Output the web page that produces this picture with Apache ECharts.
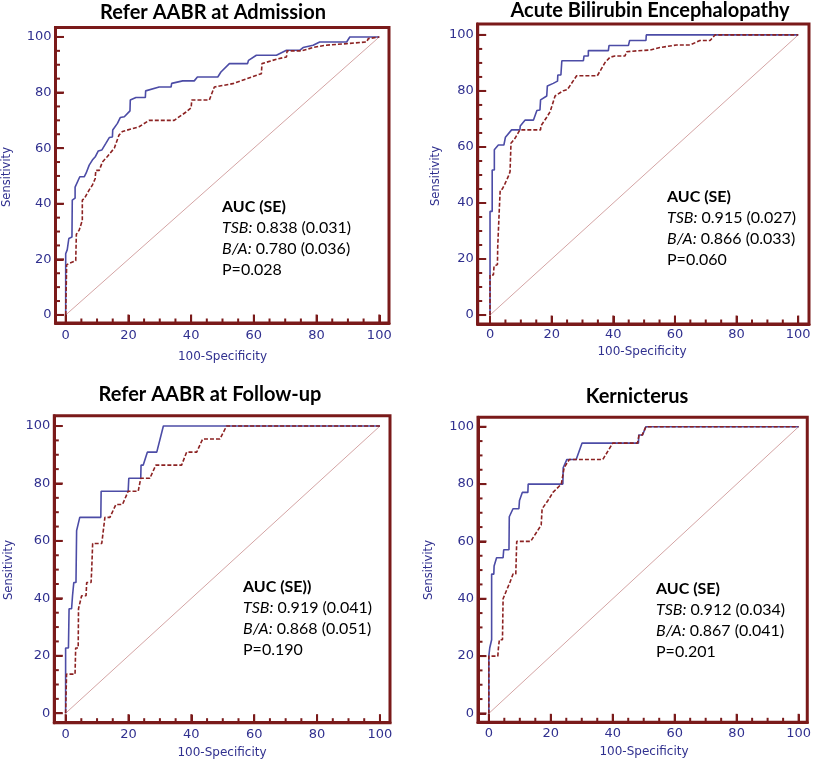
<!DOCTYPE html>
<html>
<head>
<meta charset="utf-8">
<script src="https://cdn.jsdelivr.net/npm/echarts@6/dist/echarts.min.js"></script>
<style>
  html, body { margin: 0; padding: 0; background: #fff; }
  #chart { width: 814px; height: 760px; }
</style>
</head>
<body>
<div id="chart"></div>
<script>
// tick values
const majorTicks = [0, 20, 40, 60, 80, 100];
const minorTicks = [5, 10, 15, 25, 30, 35, 45, 50, 55, 65, 70, 75, 85, 90, 95];
const diagonal = [[0, 0], [100, 100]];

const panelTitles = ['Refer AABR at Admission', 'Acute Bilirubin Encephalopathy', 'Refer AABR at Follow-up', 'Kernicterus'];
const aucHeads = ['AUC (SE)', 'AUC (SE)', 'AUC (SE))', 'AUC (SE)'];
const aucTSB = ['0.838 (0.031)', '0.915 (0.027)', '0.919 (0.041)', '0.912 (0.034)'];
const aucBA = ['0.780 (0.036)', '0.866 (0.033)', '0.868 (0.051)', '0.867 (0.041)'];
const pValues = ['P=0.028', 'P=0.060', 'P=0.190', 'P=0.201'];

// [100-specificity, sensitivity]
const admissionTSB = [[0,0],[0,22],[0.5,22],[0.5,23.5],[1,23.5],[1,27.5],[2,28],[2.1,41.3],[3,42],[3,46],[4.5,49.7],[5.9,49.7],[6.5,51],[7.5,53.9],[8.5,55.7],[9.5,57],[10.4,59],[11.5,59.3],[12.8,61.7],[13.9,63.8],[14.9,64],[15,66.5],[16.5,68.9],[17.4,71],[18.7,71.3],[20.5,73.4],[20.6,77.3],[22.4,78.2],[25.4,78.2],[25.5,80.6],[29.8,82],[33.6,82],[33.8,83.3],[37.3,84.2],[41,84.2],[42,85.6],[48.5,85.6],[49.5,87.4],[52.2,90.4],[58,90.4],[58.3,91.6],[60.8,93.4],[67.2,93.4],[70.4,95.2],[74.6,95.2],[75.7,96.2],[78.9,97],[81,98.2],[89.6,98.2],[90.6,100],[100,100]];
const admissionBA = [[0,0],[0.3,0],[0.3,18],[1,18.5],[3.2,19.5],[3.4,29],[4.3,30.5],[5.3,34],[5.3,41.3],[6,42],[7.5,45],[8.5,46.7],[9.4,49],[9.6,52],[10.7,52],[11.7,55],[13.3,57],[15.5,60],[17,64.7],[18.1,66],[23.4,67.7],[26.6,70],[34.6,70],[38.4,73],[40,74.5],[40.2,77.3],[45.8,77.3],[47.4,82],[53.3,83.2],[62.4,86.8],[62.6,90.4],[67.2,92],[70.4,92.8],[70.6,95],[75.2,95],[78.9,96.2],[82.6,97],[89.6,97.6],[89.8,98.2],[96,98.2],[96.5,99.4],[100,100]];

const abeTSB = [[0,0],[0,37],[0.7,37],[0.7,51.8],[1.4,51.8],[1.4,59],[2.7,60.7],[4.5,60.7],[5,63.5],[7,66.1],[9.7,66.1],[9.8,67.5],[11.4,69.6],[14.1,69.6],[15.2,73],[16.2,73.2],[16.4,76.8],[18.4,78.2],[18.6,81.8],[20.5,82.7],[21.9,83.5],[22,85.7],[23,85.7],[23.3,90.8],[30.3,90.8],[30.5,92.5],[31.9,92.5],[31.9,94.4],[38.4,94.4],[38.6,96.2],[44.9,96.2],[45.3,98],[50.6,98],[50.7,100],[100,100]];
const abeBA = [[0,0],[0,14.3],[1.1,14.3],[1.3,17.5],[2.4,18],[2.5,24.5],[2.9,25],[3,37.5],[3.3,37.5],[3.3,44.6],[4,45],[4.9,47],[5.9,49.4],[6.5,51.2],[6.8,61.3],[8.1,63.1],[9.7,66.1],[16.4,66.1],[16.5,67.5],[18.4,70.6],[19.5,72.6],[21.1,78.2],[23.8,80.1],[25.1,80.5],[28.1,85.4],[34.8,85.4],[37.3,90.1],[38.9,92],[40.5,92.5],[43.8,92.5],[44.3,94],[47.6,94.3],[51.9,94.6],[55.1,95.5],[60.5,96.4],[64.9,96.4],[68.1,98],[71.4,98],[73,100],[100,100]];

const followTSB = [[0,0],[0,22.7],[0.9,22.7],[1.1,36.4],[1.9,36.4],[2.2,40.9],[2.6,45.5],[3.3,45.5],[3.5,63.6],[4.5,68.2],[11.2,68.2],[11.3,77.3],[19.9,77.3],[20.1,81.8],[23.9,81.8],[24,86.4],[24.7,86.4],[26,90.9],[29,90.9],[31.1,100],[100,100]];
const followBA = [[0,0],[0.3,0],[0.3,13.6],[3,13.6],[3.2,22.7],[4,22.7],[4.1,36.4],[5.1,40.9],[6.5,40.9],[6.7,45.5],[8.1,45.5],[8.3,50],[8.6,59.1],[11.5,59.1],[12.5,68.2],[14.1,68.2],[16,72.7],[18.1,72.7],[19.9,77.3],[23.1,77.3],[23.9,81.8],[26.8,81.8],[28.7,86.4],[36.9,86.4],[38.5,90.9],[41.7,90.9],[43.6,95.5],[49.1,95.5],[51.2,100],[100,100]];

const kernTSB = [[0,0],[0,20],[0.3,20],[0.3,22.9],[0.9,25.7],[0.9,48.6],[1.6,48.6],[1.7,51.4],[2.5,54.3],[4.6,54.3],[4.8,57.1],[6.5,57.1],[6.6,68.6],[7.8,71.4],[9.7,71.4],[9.9,74.3],[10.8,77.1],[12.6,77.1],[12.7,80],[23.9,80],[24,85.7],[25.2,88.6],[28.2,88.6],[30.1,94.3],[48.3,94.3],[48.4,97.1],[49.6,97.1],[50.7,100],[100,100]];
const kernBA = [[0,0],[0,20],[2.9,20],[3.1,22.9],[3.4,25.7],[4.4,25.7],[4.6,40],[5.7,42.9],[6.8,45.7],[7.8,48.6],[8.7,48.6],[9,60],[13.5,60],[16.9,65.7],[17.2,71.4],[19.1,74.3],[20.7,77.1],[23.4,80],[24.3,85.7],[26,88.6],[36.8,88.6],[40,94.3],[48,94.3],[48.5,97.1],[49.5,97.1],[50.7,100],[100,100]];

const tsbSeries = [admissionTSB, abeTSB, followTSB, kernTSB];
const baSeries = [admissionBA, abeBA, followBA, kernBA];

// frame box in px, axis extents, title centre, AUC text anchor, axis name centres
const layout = [
  { box: [55.5, 27.5, 389, 323], xr: [-3.25, 103.1], yr: [-2.9, 103.4], title: [213, 13], txt: [222, 207], xName: [222.5, 357], yName: [7.5, 177], xm: 6 },
  { box: [477.7, 24, 809, 324], xr: [-4.0, 103.5], yr: [-3.2, 103.9], title: [650, 11], txt: [667, 197], xName: [642, 352], yName: [436, 176], xm: 4 },
  { box: [54.3, 415.7, 390, 722.7], xr: [-3.6, 103.2], yr: [-3.3, 103.6], title: [210, 395], txt: [243, 587], xName: [222, 752.5], yName: [9.5, 570], xm: 5 },
  { box: [478, 417.3, 809.3, 722.3], xr: [-3.5, 102.8], yr: [-3.1, 103.3], title: [637, 397], txt: [656, 589], xName: [644, 752], yName: [429, 570], xm: 5 }
];

const frameColor = '#7a1a1a';
const labelBlue = '#30308f';

let grid = [], xAxis = [], yAxis = [], series = [], graphic = [];

function frameAxis(dim, i, p) {
  const r = dim === 'x' ? p.xr : p.yr;
  return {
    type: 'value', gridIndex: i, position: dim === 'x' ? 'bottom' : 'left',
    min: r[0], max: r[1],
    axisLine: { show: true, onZero: false, lineStyle: { color: frameColor, width: 3 } },
    axisTick: { show: true, inside: true, length: 8, customValues: majorTicks, lineStyle: { color: frameColor, width: 2 } },
    axisLabel: { customValues: majorTicks, color: labelBlue, fontSize: 13, fontFamily: 'DejaVu Sans', margin: dim === 'x' ? p.xm : 4 },
    splitLine: { show: false }
  };
}

layout.forEach((p, i) => {
  grid.push({
    left: p.box[0], top: p.box[1],
    width: p.box[2] - p.box[0], height: p.box[3] - p.box[1],
    show: true, borderColor: frameColor, borderWidth: 3
  });
  xAxis.push(frameAxis('x', i, p));
  yAxis.push(frameAxis('y', i, p));

  series.push({
    type: 'line', xAxisIndex: i, yAxisIndex: i, data: diagonal,
    showSymbol: false, silent: true, lineStyle: { color: '#d4a4a4', width: 1 }
  });
  series.push({
    name: 'TSB', type: 'line', xAxisIndex: i, yAxisIndex: i, data: tsbSeries[i],
    showSymbol: false, lineStyle: { color: '#4c4ca6', width: 1.6 }
  });
  series.push({
    name: 'B/A', type: 'line', xAxisIndex: i, yAxisIndex: i, data: baSeries[i],
    showSymbol: false, lineStyle: { color: '#8c2222', width: 1.6, type: [4, 2] }
  });

  graphic.push({
    type: 'text', x: p.title[0], y: p.title[1],
    style: { text: panelTitles[i], fill: '#000', font: 'bold 20px Lato', align: 'center', verticalAlign: 'middle', textAlign: 'center', textVerticalAlign: 'middle' }
  });
  graphic.push({
    type: 'text', x: p.xName[0], y: p.xName[1],
    style: { text: '100-Specificity', fill: labelBlue, font: '12px "DejaVu Sans"', align: 'center', verticalAlign: 'middle', textAlign: 'center', textVerticalAlign: 'middle' }
  });
  graphic.push({
    type: 'text', x: p.yName[0], y: p.yName[1], rotation: Math.PI / 2,
    style: { text: 'Sensitivity', fill: labelBlue, font: '11.5px "DejaVu Sans"', align: 'center', verticalAlign: 'middle', textAlign: 'center', textVerticalAlign: 'middle' }
  });
  const lines = [
    '{b|' + aucHeads[i] + '}',
    '{i|TSB:} ' + aucTSB[i],
    '{i|B/A:} ' + aucBA[i],
    pValues[i]
  ];
  lines.forEach((t, k) => {
    graphic.push({
      type: 'text', x: p.txt[0], y: p.txt[1] + k * 21,
      style: {
        text: t, fill: '#000', fontSize: 16, fontFamily: 'Lato',
        align: 'left', verticalAlign: 'middle', textAlign: 'left', textVerticalAlign: 'middle',
        rich: {
          b: { fontWeight: 'bold', fontSize: 16, fontFamily: 'Lato', fill: '#000' },
          i: { fontStyle: 'italic', fontSize: 16, fontFamily: 'Lato', fill: '#000' }
        }
      }
    });
  });
});

const chart = echarts.init(document.getElementById('chart'));
chart.setOption({
  animation: false,
  grid, xAxis, yAxis, series, graphic
});

// inward frame ticks, placed through each grid's own scales
const tickMarks = [];
layout.forEach((p, i) => {
  majorTicks.map(v => [v, 8.5]).concat(minorTicks.map(v => [v, 4.5])).forEach(([v, len]) => {
    const b = chart.convertToPixel({ gridIndex: i }, [v, p.yr[0]]);
    const l = chart.convertToPixel({ gridIndex: i }, [p.xr[0], v]);
    tickMarks.push({ type: 'line', z: 100, silent: true,
      shape: { x1: b[0], y1: b[1], x2: b[0], y2: b[1] - len }, style: { stroke: frameColor, lineWidth: 2 } });
    tickMarks.push({ type: 'line', z: 100, silent: true,
      shape: { x1: l[0], y1: l[1], x2: l[0] + len, y2: l[1] }, style: { stroke: frameColor, lineWidth: 2 } });
  });
});
chart.setOption({ graphic: graphic.concat(tickMarks) });
</script>
</body>
</html>
